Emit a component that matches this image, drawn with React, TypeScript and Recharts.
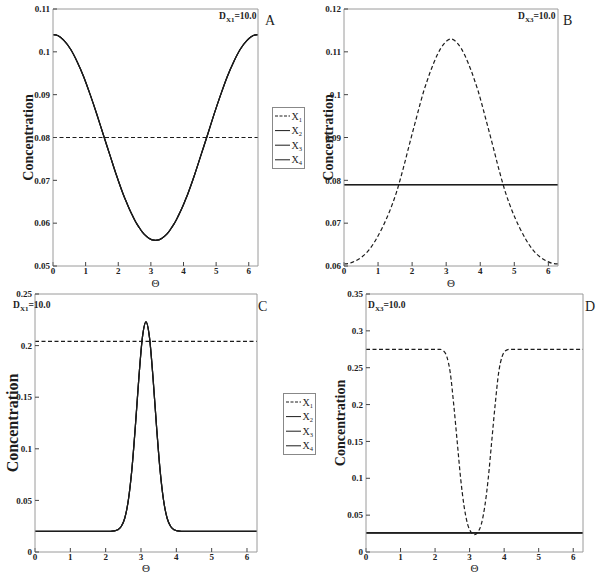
import React from 'react';
import { LineChart, Line, XAxis, YAxis, Legend } from 'recharts';

// angle grid (rad), finer around theta = pi where C and D change fast
const theta = [
  0, 0.14, 0.34, 0.54, 0.74, 0.94, 1.14, 1.34, 1.54, 1.74, 1.94, 2.14,
  2.24, 2.34, 2.44, 2.54, 2.64, 2.74, 2.84, 2.94, 3.04, 3.1416,
  3.24, 3.34, 3.44, 3.54, 3.64, 3.74, 3.84, 3.94, 4.04,
  4.14, 4.34, 4.54, 4.74, 4.94, 5.14, 5.34, 5.54, 5.74, 5.94, 6.14, 6.2832,
];
const thetaEnds = [0, 6.2832];

// panel A
const aCurve = [
  0.104, 0.1038, 0.1026, 0.1006, 0.0977, 0.0942, 0.09, 0.0855, 0.0807, 0.076, 0.0713, 0.067,
  0.0651, 0.0633, 0.0617, 0.0602, 0.059, 0.0579, 0.0571, 0.0565, 0.0561, 0.056,
  0.0561, 0.0565, 0.0571, 0.0579, 0.059, 0.0602, 0.0617, 0.0633, 0.0651,
  0.067, 0.0713, 0.076, 0.0807, 0.0855, 0.09, 0.0942, 0.0977, 0.1006, 0.1026, 0.1038, 0.104,
];
const aFlat = [0.08, 0.08];

// panel B
const bCurve = [
  0.0605, 0.0606, 0.0612, 0.0622, 0.0638, 0.0662, 0.0692, 0.0728, 0.0772, 0.0828, 0.089, 0.095,
  0.098, 0.1008, 0.1032, 0.1055, 0.1075, 0.1093, 0.1108, 0.1119, 0.1127, 0.113,
  0.1127, 0.1119, 0.1108, 0.1093, 0.1075, 0.1055, 0.1032, 0.1008, 0.098,
  0.095, 0.089, 0.0828, 0.0772, 0.0728, 0.0692, 0.0662, 0.0638, 0.0622, 0.0612, 0.0606, 0.0605,
];
const bFlat = [0.079, 0.079];

// panel C
const cPeak = [
  0.02, 0.02, 0.02, 0.02, 0.02, 0.02, 0.02, 0.02, 0.02, 0.02, 0.02, 0.02,
  0.0204, 0.0215, 0.0247, 0.0327, 0.0497, 0.0793, 0.1215, 0.169, 0.208, 0.223,
  0.208, 0.169, 0.1215, 0.0793, 0.0497, 0.0327, 0.0247, 0.0215, 0.0204,
  0.02, 0.02, 0.02, 0.02, 0.02, 0.02, 0.02, 0.02, 0.02, 0.02, 0.02, 0.02,
];
const cFlat = [0.204, 0.204];

// panel D
const dDip = [
  0.275, 0.275, 0.275, 0.275, 0.275, 0.275, 0.275, 0.275, 0.275, 0.275, 0.275, 0.275,
  0.273, 0.265, 0.243, 0.2, 0.15, 0.1, 0.062, 0.038, 0.027, 0.0235,
  0.027, 0.038, 0.062, 0.1, 0.15, 0.2, 0.243, 0.265, 0.273,
  0.275, 0.275, 0.275, 0.275, 0.275, 0.275, 0.275, 0.275, 0.275, 0.275, 0.275, 0.275,
];
const dFlat = [0.026, 0.026];

const xTicks = [0, 1, 2, 3, 4, 5, 6];
const aTicks = [0.05, 0.06, 0.07, 0.08, 0.09, 0.1, 0.11];
const bTicks = [0.06, 0.07, 0.08, 0.09, 0.1, 0.11, 0.12];
const cTicks = [0, 0.05, 0.1, 0.15, 0.2, 0.25];
const dTicks = [0, 0.05, 0.1, 0.15, 0.2, 0.25, 0.3, 0.35];
const speciesNames = ['X1', 'X2', 'X3', 'X4'];

const SERIF = '"Liberation Serif", "DejaVu Serif", serif';
const INK = '#1c1c1c';
const FRAME = '#9a9a9a';
const DASH = '4 2.5';

type Series = { name: string; xs: number[]; ys: number[]; dashed: boolean };

const toPoints = (xs: number[], ys: number[]) => xs.map((t, i) => ({ theta: t, c: ys[i] }));

// X1 dashed, X2..X4 solid (they lie on top of each other)
const makeSeries = (x1: [number[], number[]], rest: [number[], number[]]): Series[] =>
  speciesNames.map((name, i) =>
    i === 0
      ? { name, xs: x1[0], ys: x1[1], dashed: true }
      : { name, xs: rest[0], ys: rest[1], dashed: false }
  );

const tickStyle = { fontSize: 9, fontWeight: 700, fill: '#222', fontFamily: SERIF };
const yFmt = (v: number) => String(Number(v.toFixed(2)));

function LegendBox() {
  return (
    <svg width={33} height={62} style={{ display: 'block' }}>
      <rect x={0.5} y={0.5} width={32} height={61} fill="#fff" stroke="#888" />
      {speciesNames.map((name, i) => {
        const y = 9 + i * 14.6;
        return (
          <g key={name}>
            <line x1={3} x2={18} y1={y} y2={y} stroke={INK} strokeWidth={1}
              strokeDasharray={i === 0 ? '3 1.5' : undefined} />
            <text x={19.5} y={y + 3.5} fontFamily={SERIF} fontSize={10} fill={INK}>
              X<tspan fontSize={6.5} dy={2}>{name.slice(1)}</tspan>
            </text>
          </g>
        );
      })}
    </svg>
  );
}

interface PanelProps {
  left: number;
  top: number;
  width: number;
  height: number;
  margin: { top: number; right: number; bottom: number; left: number };
  yDomain: [number, number];
  yTicks: number[];
  yTitleDx: number;
  yTitleSize: number;
  thetaDy: number;
  series: Series[];
  legendAt?: { left: number; top: number };
}

function Panel(p: PanelProps) {
  const yTitle = (props: any) => {
    const vb = props.viewBox;
    const x = vb.x + p.yTitleDx;
    const y = vb.y + vb.height / 2;
    return (
      <text x={x} y={y} transform={`rotate(-90 ${x} ${y})`} textAnchor="middle"
        dominantBaseline="central" fontFamily={SERIF} fontSize={p.yTitleSize} fontWeight={700} fill={INK}>
        Concentration
      </text>
    );
  };
  const xTitle = (props: any) => {
    const vb = props.viewBox;
    return (
      <text x={vb.x + vb.width / 2} y={vb.y + p.thetaDy} textAnchor="middle"
        fontFamily={SERIF} fontSize={11} fill={INK}>
        Θ
      </text>
    );
  };

  return (
    <div style={{ position: 'absolute', left: p.left, top: p.top }}>
      <LineChart width={p.width} height={p.height} margin={p.margin}>
        <XAxis xAxisId="b" dataKey="theta" type="number" domain={[0, 6.2832]} allowDataOverflow
          ticks={xTicks} interval={0} height={22} axisLine={{ stroke: FRAME }}
          tickLine={{ stroke: '#444' }} tickSize={-4} tickMargin={6} tick={tickStyle} label={xTitle} />
        <XAxis xAxisId="t" orientation="top" dataKey="theta" type="number" domain={[0, 6.2832]}
          allowDataOverflow ticks={xTicks} interval={0} height={1} axisLine={{ stroke: FRAME }}
          tickLine={{ stroke: '#444' }} tickSize={-4} tick={false} />
        <YAxis yAxisId="l" type="number" domain={p.yDomain} allowDataOverflow ticks={p.yTicks}
          interval={0} width={30} axisLine={{ stroke: FRAME }} tickLine={{ stroke: '#444' }}
          tickSize={-4} tickMargin={7} tick={tickStyle} tickFormatter={yFmt} label={yTitle} />
        <YAxis yAxisId="r" orientation="right" type="number" domain={p.yDomain} allowDataOverflow
          ticks={p.yTicks} interval={0} width={1} axisLine={{ stroke: FRAME }}
          tickLine={{ stroke: '#444' }} tickSize={-4} tick={false} />
        {p.series.map((s) => (
          <Line key={s.name} name={s.name} xAxisId="b" yAxisId="l" data={toPoints(s.xs, s.ys)}
            dataKey="c" type="monotone" stroke={INK} strokeWidth={1.2}
            strokeDasharray={s.dashed ? DASH : undefined} dot={false} activeDot={false}
            isAnimationActive={false} />
        ))}
        {p.legendAt && (
          <Legend layout="vertical" align="center" verticalAlign="middle" content={() => <LegendBox />}
            wrapperStyle={{ position: 'absolute', left: p.legendAt.left, top: p.legendAt.top, width: 33, height: 62 }} />
        )}
      </LineChart>
    </div>
  );
}

function Note({ x, y, sub }: { x: number; y: number; sub: string }) {
  return (
    <text x={x} y={y} fontFamily={SERIF} fontSize={9.5} fontWeight={700} fill={INK}>
      D<tspan fontSize={7} dy={3}>{sub}</tspan>
      <tspan fontSize={9.5} dy={-3}>=10.0</tspan>
    </text>
  );
}

export default function App() {
  return (
    <div style={{ position: 'absolute', left: 0, top: 0, width: 600, height: 581, background: '#fff' }}>
      <Panel left={0} top={0} width={300} height={290}
        margin={{ top: 8, right: 41, bottom: 2, left: 23 }}
        yDomain={[0.05, 0.11]} yTicks={aTicks} yTitleDx={5} yTitleSize={14} thetaDy={21}
        series={makeSeries([thetaEnds, aFlat], [theta, aCurve])}
        legendAt={{ left: 272, top: 107 }} />
      <Panel left={300} top={0} width={300} height={290}
        margin={{ top: 8, right: 41, bottom: 2, left: 14 }}
        yDomain={[0.06, 0.12]} yTicks={bTicks} yTitleDx={14} yTitleSize={14} thetaDy={21}
        series={makeSeries([theta, bCurve], [thetaEnds, bFlat])} />
      <Panel left={0} top={290} width={300} height={291}
        margin={{ top: 3, right: 42, bottom: 7, left: 5 }}
        yDomain={[0, 0.25]} yTicks={cTicks} yTitleDx={7} yTitleSize={16} thetaDy={20}
        series={makeSeries([thetaEnds, cFlat], [theta, cPeak])}
        legendAt={{ left: 283, top: 103 }} />
      <Panel left={300} top={290} width={300} height={291}
        margin={{ top: 3, right: 16, bottom: 7, left: 36 }}
        yDomain={[0, 0.35]} yTicks={dTicks} yTitleDx={4} yTitleSize={14} thetaDy={20}
        series={makeSeries([theta, dDip], [thetaEnds, dFlat])} />

      <svg width={600} height={581} style={{ position: 'absolute', left: 0, top: 0, pointerEvents: 'none' }}>
        <Note x={219} y={19} sub="X1" />
        <Note x={518} y={19} sub="X3" />
        <Note x={13} y={308} sub="X1" />
        <Note x={368} y={308} sub="X3" />
        <g fontFamily={SERIF} fontSize={14} fill={INK}>
          <text x={265} y={25}>A</text>
          <text x={563} y={25}>B</text>
          <text x={258} y={311}>C</text>
          <text x={585} y={311}>D</text>
        </g>
      </svg>
    </div>
  );
}
